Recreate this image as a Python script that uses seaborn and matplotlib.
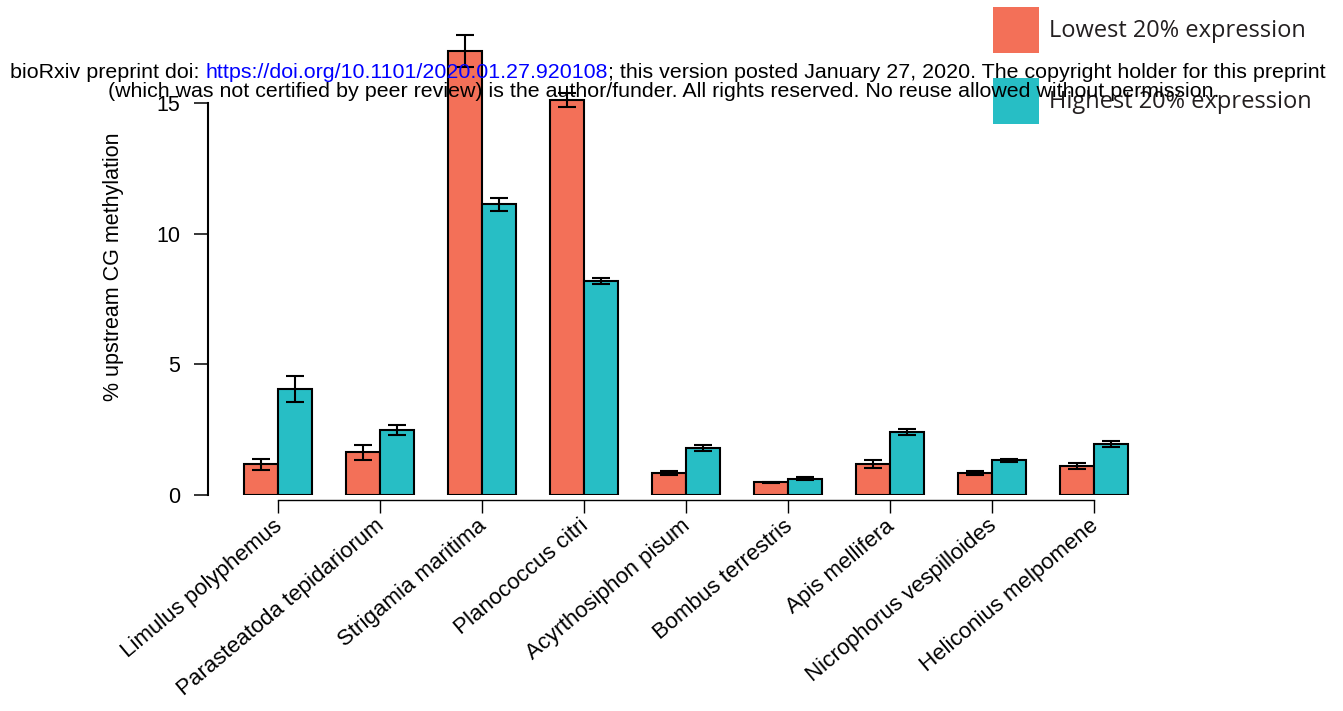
import numpy as np
import pandas as pd
import seaborn as sns
import matplotlib
matplotlib.use("Agg")
import matplotlib.pyplot as plt
import matplotlib.transforms as mtransforms
from matplotlib.patches import Patch

# ---------------- data ----------------
species = ["Limulus polyphemus", "Parasteatoda tepidariorum", "Strigamia maritima",
           "Planococcus citri", "Acyrthosiphon pisum", "Bombus terrestris",
           "Apis mellifera", "Nicrophorus vespilloides", "Heliconius melpomene"]
groups = ["Lowest 20% expression", "Highest 20% expression"]
low_vals = [1.17, 1.63, 17.00, 15.12, 0.85, 0.49, 1.19, 0.85, 1.11]
low_errs = [0.21, 0.30, 0.62, 0.26, 0.08, 0.02, 0.16, 0.08, 0.10]
high_vals = [4.06, 2.48, 11.12, 8.19, 1.79, 0.62, 2.42, 1.33, 1.95]
high_errs = [0.51, 0.20, 0.25, 0.11, 0.11, 0.05, 0.12, 0.05, 0.10]
yticks = [0, 5, 10, 15]
ylabel = "% upstream CG methylation"
header_a = "bioRxiv preprint doi: "
header_url = "https://doi.org/10.1101/2020.01.27.920108"
header_b = "; this version posted January 27, 2020. The copyright holder for this preprint"
header_2 = "(which was not certified by peer review) is the author/funder. All rights reserved. No reuse allowed without permission."
colors = ["#F37058", "#27BEC5"]

df = pd.DataFrame({
    "species": species * 2,
    "group": [groups[0]] * len(species) + [groups[1]] * len(species),
    "value": low_vals + high_vals,
})
errs = [low_errs, high_errs]

# ---------------- figure ----------------
sns.set_style("white")
plt.rcParams["font.family"] = ["Liberation Sans", "DejaVu Sans"]
W, H = 1343, 711
fig = plt.figure(figsize=(W / 100, H / 100), dpi=100)

y0_px, ppu = 495.0, 26.13
ymax = 18.0
ax_left, ax_right = 208.3, 1164.3
ax = fig.add_axes([ax_left / W, (H - y0_px) / H, (ax_right - ax_left) / W, ymax * ppu / H])

sns.barplot(data=df, x="species", y="value", hue="group", order=species, hue_order=groups,
            palette=colors, saturation=1, width=2 / 3, gap=0, errorbar=None,
            edgecolor="black", linewidth=1.5, legend=False, ax=ax)

for p in ax.patches:
    cx = p.get_x() + p.get_width() / 2
    i = int(round(cx))
    j = 0 if cx < i else 1
    ax.errorbar(cx, p.get_height(), yerr=errs[j][i], fmt="none", ecolor="black",
                elinewidth=1.5, capsize=6.5, capthick=1.5, zorder=4)

ax.set_xlim(-0.686, 8.686)
ax.set_ylim(0, ymax)

for s in ["top", "right"]:
    ax.spines[s].set_visible(False)
ax.spines["left"].set_bounds(0, 15)
ax.spines["left"].set_linewidth(1.5)
ax.spines["left"].set_color("black")
ax.spines["bottom"].set_bounds(0, 8)
ax.spines["bottom"].set_position(("outward", 3.6))
ax.spines["bottom"].set_linewidth(1.0)
ax.spines["bottom"].set_color("black")

ax.tick_params(axis="y", left=True, length=10, width=1.1, pad=10, labelsize=15.5,
               color="black", labelcolor="black", direction="out")
ax.tick_params(axis="x", bottom=True, length=9.5, width=1.0, pad=10.4, labelsize=16,
               color="black", labelcolor="black", direction="out", labelrotation=40)

ax.set_yticks(yticks)
ax.set_yticklabels([str(t) for t in yticks])
ax.set_xticks(range(len(species)))
ax.set_xticklabels(species)
off = mtransforms.ScaledTranslation(5 / 100, 0, fig.dpi_scale_trans)
for lab in ax.get_xticklabels():
    lab.set(rotation=40, ha="right", va="baseline", rotation_mode="anchor")
    lab.set_transform(lab.get_transform() + off)

ax.set_xlabel("")
ax.set_ylabel(ylabel, fontsize=15.5, color="black")
ax.yaxis.set_label_coords(-0.088, 0.485)

# ---------------- measuring helper ----------------
renderer = fig.canvas.get_renderer()


def text_width(s, size, family):
    t = fig.text(0, 0, s, fontsize=size, family=family)
    w = t.get_window_extent(renderer).width
    t.remove()
    return w


# ---------------- header ----------------
hfam = ["Liberation Sans", "DejaVu Sans"]
full1 = header_a + header_url + header_b
w12 = text_width(full1, 12, hfam)
hsize = 12 * (1312.0 / w12)
x = 10.0
for seg, col in [(header_a, "black"), (header_url, "#0000FF"), (header_b, "black")]:
    fig.text(x / W, 1 - 77.7 / H, seg, fontsize=hsize, family=hfam, color=col,
             ha="left", va="baseline", zorder=10)
    x += text_width(seg, hsize, hfam)
fig.text(108 / W, 1 - 96.7 / H, header_2, fontsize=hsize, family=hfam, color="black",
         ha="left", va="baseline", zorder=10)

# ---------------- legend ----------------
lfam = ["Open Sans", "DejaVu Sans"]
wl = text_width(groups[0], 16, lfam)
lsize = 16 * (257.0 / wl)
fs_px = lsize * 100 / 72
hh = (46 / fs_px - 0.245) / 0.65
handles = [Patch(facecolor=c, edgecolor="none") for c in colors]
fig.legend(handles, groups, loc="upper left", bbox_to_anchor=(993 / W, 1 - 7 / H),
           frameon=False, borderpad=0, borderaxespad=0,
           handlelength=46 / fs_px, handleheight=hh,
           labelspacing=25 / fs_px, handletextpad=10 / fs_px,
           prop={"family": lfam, "size": lsize}, labelcolor="#231F20")

fig.savefig("out.png", dpi=100)
